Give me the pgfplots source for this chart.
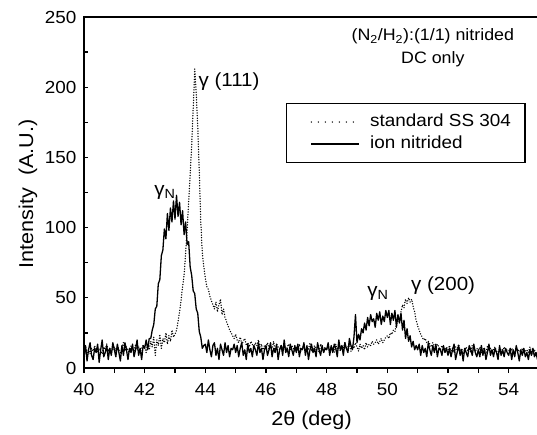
\documentclass[border=0pt]{standalone}
\usepackage{fontspec}
\setmainfont{Liberation Sans}[FakeStretch=1.08]
\usepackage{pgfplots}
\usepackage{pgfplotstable}
\pgfplotsset{compat=1.18}

% XRD scans: 2theta, ion nitrided, standard SS 304
\pgfplotstableread{
x ion std
40.00 8 12
40.05 16 15
40.10 5 11
40.15 13 13
40.20 18 10
40.25 9 14
40.30 6 12
40.35 14 16
40.40 11 13
40.45 17 11
40.50 4 14
40.55 13 12
40.60 20 10
40.65 8 15
40.70 11 13
40.75 16 17
40.80 6 12
40.85 14 14
40.90 9 11
40.95 18 13
41.00 13 15
41.05 8 12
41.10 17 16
41.15 11 13
41.20 5 11
41.25 16 14
41.30 9 18
41.35 18 12
41.40 13 15
41.45 6 13
41.50 14 11
41.55 11 16
41.60 17 14
41.65 8 12
41.70 13 17
41.75 20 13
41.80 9 15
41.85 14 12
41.90 6 14
41.95 16 16
42.00 14 14
42.05 20 11
42.10 13 17
42.15 21 13
42.20 21 19
42.25 27 15
42.30 31 22
42.35 42 9
42.40 44 20
42.45 60 16
42.50 63 24
42.55 80 14
42.60 84 21
42.65 99 18
42.70 92 25
42.75 110 17
42.80 98 23
42.85 114 19
42.90 104 27
42.95 119 22
43.00 106 24
43.05 123 27
43.10 108 33
43.15 118 40
43.20 102 48
43.25 112 58
43.30 95 66
43.35 104 82
43.40 88 98
43.45 90 118
43.50 72 138
43.55 66 158
43.60 55 185
43.65 53 213
43.70 42 195
43.75 39 172
43.80 26 140
43.85 22 104
43.90 14 82
43.95 16 72
44.00 17 64
44.05 11 58
44.10 20 56
44.15 13 51
44.20 8 48
44.25 16 45
44.30 18 42
44.35 9 47
44.40 14 40
44.45 6 45
44.50 17 49
44.55 13 38
44.60 9 42
44.65 18 36
44.70 11 33
44.75 16 30
44.80 8 27
44.85 14 25
44.90 13 23
44.95 17 21
45.00 11 24
45.05 16 20
45.10 8 18
45.15 14 22
45.20 18 17
45.25 9 19
45.30 13 21
45.35 6 16
45.40 17 18
45.45 11 15
45.50 14 19
45.55 8 17
45.60 16 14
45.65 13 18
45.70 9 16
45.75 18 20
45.80 11 15
45.85 14 17
45.90 6 13
45.95 13 16
46.00 16 15
46.05 9 18
46.10 13 13
46.15 18 16
46.20 8 14
46.25 14 19
46.30 11 12
46.35 17 17
46.40 6 15
46.45 13 13
46.50 16 16
46.55 9 14
46.60 20 18
46.65 11 12
46.70 14 15
46.75 8 17
46.80 17 13
46.85 13 16
46.90 9 14
46.95 16 12
47.00 11 15
47.05 17 13
47.10 8 17
47.15 14 12
47.20 13 14
47.25 18 16
47.30 9 11
47.35 16 15
47.40 6 13
47.45 13 18
47.50 17 12
47.55 11 14
47.60 14 16
47.65 8 13
47.70 18 15
47.75 13 11
47.80 9 17
47.85 16 14
47.90 11 12
47.95 14 15
48.00 13 13
48.05 18 16
48.10 9 12
48.15 16 15
48.20 11 14
48.25 17 11
48.30 14 17
48.35 8 13
48.40 20 15
48.45 13 12
48.50 16 16
48.55 9 14
48.60 18 18
48.65 14 13
48.70 11 15
48.75 21 17
48.80 16 12
48.85 13 16
48.90 22 14
48.95 38 18
49.00 18 15
49.05 24 12
49.10 20 17
49.15 28 14
49.20 25 16
49.25 32 13
49.30 27 18
49.35 36 15
49.40 30 17
49.45 38 16
49.50 33 19
49.55 35 17
49.60 29 18
49.65 39 20
49.70 34 17
49.75 40 19
49.80 31 21
49.85 37 18
49.90 33 20
49.95 41 22
50.00 36 23
50.05 41 21
50.10 31 25
50.15 39 24
50.20 34 27
50.25 41 26
50.30 29 31
50.35 38 35
50.40 32 33
50.45 39 40
50.50 27 45
50.55 34 43
50.60 21 49
50.65 28 46
50.70 19 50
50.75 23 47
50.80 15 49
50.85 19 44
50.90 13 40
50.95 16 34
51.00 13 30
51.05 17 27
51.10 9 24
51.15 16 22
51.20 11 20
51.25 14 21
51.30 8 18
51.35 18 19
51.40 13 17
51.45 9 15
51.50 16 18
51.55 11 16
51.60 17 14
51.65 8 17
51.70 14 15
51.75 13 13
51.80 9 16
51.85 16 14
51.90 11 12
51.95 14 15
52.00 9 13
52.05 14 16
52.10 8 12
52.15 13 14
52.20 17 11
52.25 6 15
52.30 11 13
52.35 16 17
52.40 9 12
52.45 13 14
52.50 5 10
52.55 14 13
52.60 11 15
52.65 8 12
52.70 16 14
52.75 13 11
52.80 9 16
52.85 17 13
52.90 11 12
52.95 8 14
53.00 13 12
53.05 8 15
53.10 16 11
53.15 9 14
53.20 14 13
53.25 6 10
53.30 11 16
53.35 17 12
53.40 9 14
53.45 13 11
53.50 8 13
53.55 14 15
53.60 11 12
53.65 6 10
53.70 16 14
53.75 9 13
53.80 13 11
53.85 8 15
53.90 14 12
53.95 11 13
54.00 9 13
54.05 14 11
54.10 6 14
54.15 13 12
54.20 8 10
54.25 16 15
54.30 11 12
54.35 5 13
54.40 13 11
54.45 9 14
54.50 14 10
54.55 8 12
54.60 11 13
54.65 6 11
54.70 13 15
54.75 9 12
54.80 14 10
54.85 8 13
54.90 11 11
54.95 6 12
55.00 9 11
}\xrd

\begin{document}
\fontsize{17.5bp}{23bp}\selectfont
\begin{tikzpicture}
\begin{axis}[
  scale only axis, width=455bp, height=351bp,
  xmin=40, xmax=55, ymin=0, ymax=250,
  xtick={40,42,...,54}, ytick={0,50,...,250},
  minor x tick num=1, minor y tick num=1,
  xtick pos=bottom, ytick pos=left,
  tick align=inside,
  major tick length=4.5bp, minor tick length=4.5bp,
  xtick style={yshift=-4.5bp},
  tick style={line width=1.2bp, black},
  axis line style={line width=1.2bp},
  /pgf/number format/assume math mode=true,
  xticklabel style={yshift=-9bp},
  yticklabel style={xshift=-1.5bp},
  xlabel={2θ (deg)},
  ylabel={Intensity \ (A.U.)},
  label style={font=\fontsize{20bp}{24bp}\selectfont},
  xlabel style={at={(axis description cs:0.5,-0.148)}, anchor=center},
  ylabel style={at={(axis description cs:-0.123,0.496)}, anchor=center},
  legend style={at={(axis description cs:0.444,0.755)}, anchor=north west,
    draw=black, line width=1.2bp, inner xsep=12bp, inner ysep=9bp, row sep=3bp,
    nodes={text height=12bp, text depth=3bp, inner sep=2bp},
    /tikz/every odd column/.append style={column sep=8bp}},
  legend cell align=left,
  legend image code/.code={\path (0bp,0bp); \draw[#1] (12bp,0bp) -- (60bp,0bp);},
]
\coordinate (sw) at (rel axis cs:0,0);
\addplot[black, line width=1.5bp, line cap=round, dash pattern=on 0bp off 2.6bp, forget plot]
  table[x=x, y=std] {\xrd};
\addplot[black, line width=1.3bp, line join=round, forget plot]
  table[x=x, y=ion] {\xrd};
\addlegendimage{black, line width=1.5bp, line cap=round, dash pattern=on 0bp off 7bp}
\addlegendentry{standard SS 304}
\addlegendimage{black, line width=1.2bp}
\addlegendentry{ion nitrided}
\node[align=center, font=\fontsize{16.5bp}{23bp}\selectfont] at (axis cs:51.5,228)
  {(N\textsubscript{2}/H\textsubscript{2}):(1/1) nitrided\\DC only};
\begin{scope}[every node/.style={font=\fontsize{19bp}{22bp}\selectfont}]
\node at (axis cs:44.78,204) {γ (111)};
\node at (axis cs:42.67,125) {γ\textsubscript{N}};
\node at (axis cs:49.69,53) {γ\textsubscript{N}};
\node at (axis cs:51.84,59) {γ (200)};
\end{scope}
\end{axis}
\pgfresetboundingbox
\path[use as bounding box] ([shift={(-84bp,-67bp)}]sw) rectangle ([shift={(453bp,368bp)}]sw);
\end{tikzpicture}
\end{document}
